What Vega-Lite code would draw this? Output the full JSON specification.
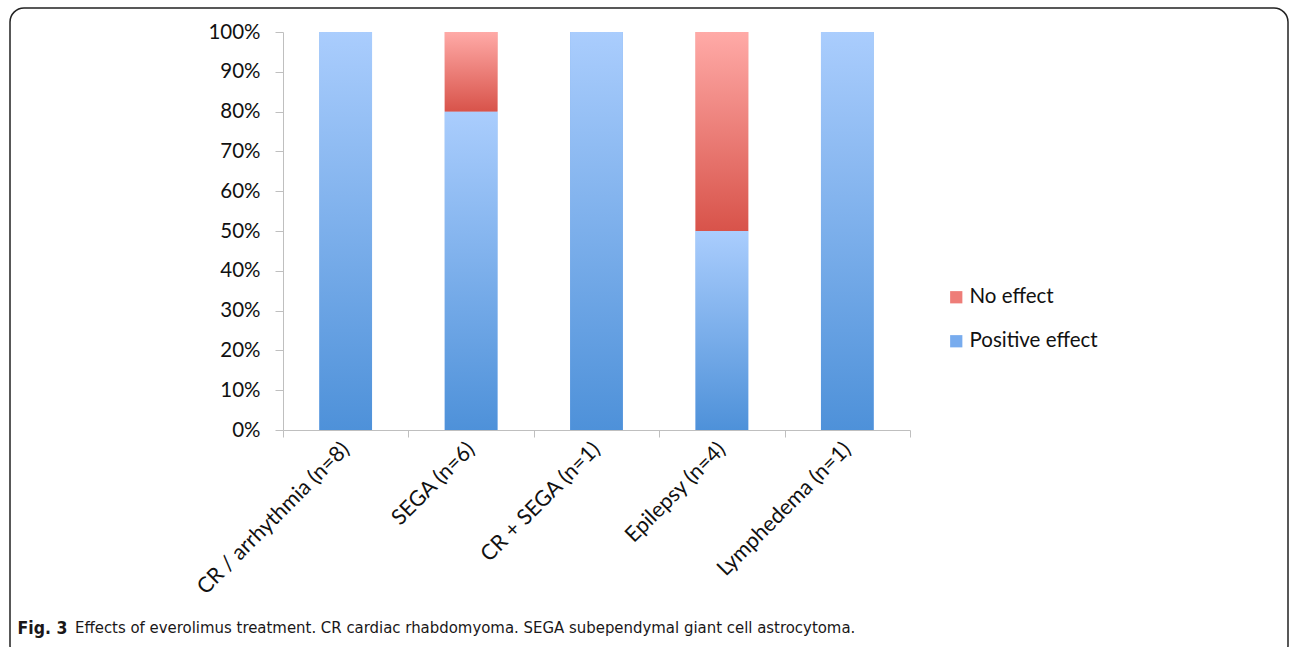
{
  "$schema": "https://vega.github.io/schema/vega-lite/v6.json",
  "width": 1278,
  "height": 652,
  "autosize": {"type": "none"},
  "padding": {"left": 10, "top": 8, "right": 2, "bottom": 0},
  "background": "white",
  "config": {
    "view": {"stroke": "#222222", "strokeWidth": 1.5, "cornerRadius": 14, "fill": "white"},
    "font": "Lato"
  },
  "title": {
    "text": "Effects of everolimus treatment. CR cardiac rhabdomyoma. SEGA subependymal giant cell astrocytoma.",
    "orient": "bottom",
    "anchor": "start",
    "frame": "group",
    "dx": 65,
    "offset": -32,
    "baseline": "middle",
    "font": "DejaVu Sans Condensed, Roboto Condensed, Liberation Sans Narrow, Roboto",
    "fontSize": 16.6,
    "fontWeight": "normal",
    "color": "#1a1718"
  },
  "data": {
    "values": [
      {"category": "CR / arrhythmia (n=8)", "effect": "Positive effect", "percent": 100},
      {"category": "SEGA (n=6)", "effect": "Positive effect", "percent": 80},
      {"category": "SEGA (n=6)", "effect": "No effect", "percent": 20},
      {"category": "CR + SEGA (n=1)", "effect": "Positive effect", "percent": 100},
      {"category": "Epilepsy (n=4)", "effect": "Positive effect", "percent": 50},
      {"category": "Epilepsy (n=4)", "effect": "No effect", "percent": 50},
      {"category": "Lymphedema (n=1)", "effect": "Positive effect", "percent": 100}
    ]
  },
  "transform": [
    {"stack": "percent", "groupby": ["category"], "as": ["p0", "p1"], "sort": [{"field": "effect", "order": "descending"}]}
  ],
  "encoding": {
    "x": {
      "field": "category",
      "type": "nominal",
      "sort": null,
      "scale": {"range": [273, 900], "paddingInner": 0, "paddingOuter": 0},
      "axis": {
        "offset": -230,
        "domainColor": "#bfbfbf",
        "tickColor": "#bfbfbf",
        "tickSize": 7,
        "tickBand": "extent",
        "labelAngle": -45,
        "labelAlign": "right",
        "labelBaseline": "middle",
        "labelFontSize": 21.5,
        "labelColor": "#111111",
        "labelPadding": 9,
        "labelLimit": 400,
        "title": "Fig. 3",
        "titleX": 7,
        "titleY": 198,
        "titleAngle": 0,
        "titleAlign": "left",
        "titleBaseline": "middle",
        "titleFont": "DejaVu Sans Condensed, Roboto Condensed, Liberation Sans Narrow, Roboto",
        "titleFontWeight": "bold",
        "titleFontSize": 17.5,
        "titleColor": "#1a1718"
      }
    },
    "y": {
      "field": "p1",
      "type": "quantitative",
      "scale": {"domain": [0, 100], "range": [422, 24], "nice": false},
      "axis": {
        "offset": -273,
        "values": [0, 10, 20, 30, 40, 50, 60, 70, 80, 90, 100],
        "labelExpr": "datum.value + '%'",
        "grid": false,
        "domainColor": "#bfbfbf",
        "tickColor": "#bfbfbf",
        "tickSize": 8,
        "labelPadding": 15,
        "labelFontSize": 20.5,
        "labelColor": "#111111",
        "title": null
      }
    },
    "y2": {"field": "p0"}
  },
  "layer": [
    {
      "mark": {"type": "bar", "width": {"band": 0.42}},
      "encoding": {
        "color": {
          "field": "effect",
          "type": "nominal",
          "scale": {"domain": ["No effect", "Positive effect"], "range": ["#ee7d78", "#78acee"]},
          "legend": {
            "orient": "none",
            "legendX": 936,
            "legendY": 279,
            "title": null,
            "symbolType": "square",
            "symbolSize": 150,
            "symbolStrokeWidth": 0,
            "labelFontSize": 20.5,
            "labelColor": "#111111",
            "labelOffset": 3,
            "rowPadding": 23,
            "padding": 0
          }
        }
      }
    },
    {
      "transform": [{"filter": "datum.effect === 'Positive effect'"}],
      "mark": {
        "type": "bar",
        "width": {"band": 0.42},
        "color": {"gradient": "linear", "x1": 0, "y1": 0, "x2": 0, "y2": 1,
          "stops": [{"offset": 0, "color": "#aacdfd"}, {"offset": 1, "color": "#4e91d9"}]}
      }
    },
    {
      "transform": [{"filter": "datum.effect === 'No effect'"}],
      "mark": {
        "type": "bar",
        "width": {"band": 0.42},
        "color": {"gradient": "linear", "x1": 0, "y1": 0, "x2": 0, "y2": 1,
          "stops": [{"offset": 0, "color": "#ffaaa7"}, {"offset": 1, "color": "#d8534a"}]}
      }
    }
  ]
}
